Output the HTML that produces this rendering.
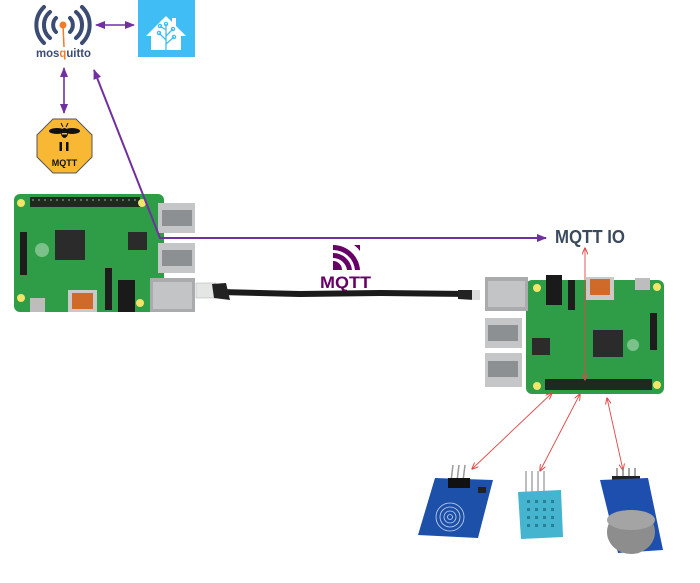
<!DOCTYPE html>
<html><head><meta charset="utf-8"><style>
html,body{margin:0;padding:0;background:#fff;}
svg{display:block;}
</style></head><body>
<svg width="700" height="583" viewBox="0 0 700 583" xmlns="http://www.w3.org/2000/svg">
<defs>
<marker id="pa" markerWidth="10" markerHeight="8" refX="9" refY="4" orient="auto-start-reverse" markerUnits="userSpaceOnUse">
<path d="M0,0 L10,4 L0,8 z" fill="#7030a0"/>
</marker>
<marker id="ra" markerWidth="7" markerHeight="6" refX="6.5" refY="3" orient="auto-start-reverse" markerUnits="userSpaceOnUse">
<path d="M0,0 L7,3 L0,6" fill="none" stroke="#e04848" stroke-width="1"/>
</marker>
</defs>

<!-- Mosquitto logo -->
<g fill="none" stroke="#3c4b72" stroke-width="4" stroke-linecap="round">
<path d="M56,18 A10,10 0 0 0 56,32"/>
<path d="M70,18 A10,10 0 0 1 70,32"/>
<path d="M50,12 A17,17 0 0 0 50,38"/>
<path d="M76,12 A17,17 0 0 1 76,38"/>
<path d="M44,7 A25,25 0 0 0 44,43"/>
<path d="M82,7 A25,25 0 0 1 82,43"/>
</g>
<line x1="63" y1="25" x2="64" y2="47" stroke="#f07c2a" stroke-width="1.5"/>
<circle cx="63" cy="25" r="3.5" fill="#f07c2a"/>
<text x="36" y="57" font-family="Liberation Sans, sans-serif" font-size="12" font-weight="bold" fill="#3c4b72" textLength="55" lengthAdjust="spacingAndGlyphs">mos<tspan fill="#f07c2a">q</tspan>uitto</text>

<!-- Home Assistant -->
<rect x="138" y="0" width="57" height="57" fill="#41bdf5"/>
<path d="M146,36 L166,16 L172,22 L172,18 L176,18 L176,26 L186,36 L181,36 L181,50 L151,50 L151,36 Z" fill="#fff"/>
<g stroke="#41bdf5" stroke-width="1.3" fill="none">
<path d="M166,50 L166,24 M166,40 L159,33 M166,36 L173,29 M166,44 L174,37 M166,30 L160,26"/>
<circle cx="166" cy="24" r="1.6"/><circle cx="159" cy="33" r="1.6"/><circle cx="173" cy="29" r="1.6"/><circle cx="174" cy="37" r="1.6"/><circle cx="160" cy="26" r="1.6"/>
</g>

<!-- purple arrows top -->
<line x1="96" y1="25" x2="134" y2="25" stroke="#7030a0" stroke-width="1.6" marker-start="url(#pa)" marker-end="url(#pa)"/>
<line x1="64" y1="68" x2="64" y2="113" stroke="#7030a0" stroke-width="1.6" marker-start="url(#pa)" marker-end="url(#pa)"/>

<!-- MQTT bee octagon -->
<polygon points="53,119 76,119 92,135 92,157 76,173 53,173 37,157 37,135" fill="#f8b834" stroke="#555" stroke-width="1"/>
<ellipse cx="57" cy="131" rx="8" ry="3" fill="#111"/>
<ellipse cx="72" cy="131" rx="8" ry="3" fill="#111"/>
<ellipse cx="64.5" cy="133" rx="3.5" ry="5" fill="#111"/>
<rect x="62" y="133" width="5" height="1.5" fill="#f8b834"/>
<line x1="61" y1="123" x2="63" y2="127" stroke="#111" stroke-width="1"/>
<line x1="68" y1="123" x2="66" y2="127" stroke="#111" stroke-width="1"/>
<rect x="59.5" y="142" width="2.5" height="9" fill="#111"/>
<rect x="66" y="142" width="2.5" height="9" fill="#111"/>
<text x="64.5" y="166" text-anchor="middle" font-family="Liberation Sans, sans-serif" font-size="9" font-weight="bold" fill="#111">MQTT</text>

<!-- Left Raspberry Pi -->
<rect x="14" y="194" width="150" height="118" rx="6" fill="#2f9d48"/>
<rect x="30" y="197" width="110" height="10" fill="#1c2a20"/>
<g fill="#666">
<rect x="32" y="199" width="2" height="2"/><rect x="38" y="199" width="2" height="2"/><rect x="44" y="199" width="2" height="2"/><rect x="50" y="199" width="2" height="2"/><rect x="56" y="199" width="2" height="2"/><rect x="62" y="199" width="2" height="2"/><rect x="68" y="199" width="2" height="2"/><rect x="74" y="199" width="2" height="2"/><rect x="80" y="199" width="2" height="2"/><rect x="86" y="199" width="2" height="2"/><rect x="92" y="199" width="2" height="2"/><rect x="98" y="199" width="2" height="2"/><rect x="104" y="199" width="2" height="2"/><rect x="110" y="199" width="2" height="2"/><rect x="116" y="199" width="2" height="2"/><rect x="122" y="199" width="2" height="2"/><rect x="128" y="199" width="2" height="2"/><rect x="134" y="199" width="2" height="2"/>
</g>
<circle cx="21" cy="203" r="4" fill="#f3e46a"/>
<circle cx="142" cy="203" r="4" fill="#f3e46a"/>
<circle cx="21" cy="298" r="4" fill="#f3e46a"/>
<circle cx="140" cy="303" r="4" fill="#f3e46a"/>
<rect x="55" y="230" width="30" height="30" fill="#2b2b2b"/>
<rect x="128" y="232" width="19" height="18" fill="#2b2b2b"/>
<rect x="20" y="232" width="7" height="43" fill="#1d1d1d"/>
<circle cx="42" cy="250" r="7" fill="#7cc08a"/>
<rect x="105" y="268" width="7" height="42" fill="#1d1d1d"/>
<rect x="118" y="280" width="17" height="32" fill="#1a1a1a"/>
<rect x="68" y="290" width="29" height="22" fill="#c9c9c9"/>
<rect x="72" y="293" width="21" height="16" fill="#d06a2a"/>
<rect x="30" y="298" width="15" height="14" fill="#bdbdbd"/>
<rect x="158" y="203" width="37" height="30" fill="#c4c6c8"/>
<rect x="162" y="210" width="30" height="16" fill="#8d9092"/>
<rect x="158" y="243" width="37" height="30" fill="#c4c6c8"/>
<rect x="162" y="250" width="30" height="16" fill="#8d9092"/>
<rect x="150" y="278" width="45" height="34" fill="#a9abad"/>
<rect x="153" y="282" width="39" height="27" fill="#c2c4c6"/>

<!-- Ethernet cable -->
<path d="M220,292 L300,294 L380,293 L468,294" stroke="#1b1b1b" stroke-width="6" fill="none"/>
<rect x="196" y="283" width="20" height="15" fill="#e4e6e6" stroke="#aaa" stroke-width="0.5"/>
<path d="M212,284 L226,283 L230,300 L214,298 Z" fill="#222"/>
<path d="M458,290 L472,290 L474,300 L458,299 Z" fill="#222"/>
<rect x="472" y="290" width="8" height="10" fill="#dcdcdc"/>

<!-- purple long arrow -->
<polyline points="160,238 94,70" fill="none" stroke="#7030a0" stroke-width="2" marker-end="url(#pa)"/>
<line x1="159" y1="238" x2="546" y2="238" stroke="#7030a0" stroke-width="2" marker-end="url(#pa)"/>
<text x="555" y="243" font-family="Liberation Sans, sans-serif" font-size="18" font-weight="bold" fill="#3c4a5e" textLength="70" lengthAdjust="spacingAndGlyphs">MQTT IO</text>

<!-- MQTT logo center -->
<rect x="333" y="245" width="27" height="25" fill="#fff"/>
<path d="M333,245 A27,27 0 0 1 360,270 L355,270 A22,22 0 0 0 333,250 Z" fill="#660066"/>
<path d="M333,253 A19,19 0 0 1 352,270 L347,270 A14,14 0 0 0 333,258 Z" fill="#660066"/>
<path d="M333,261 A9,9 0 0 1 342,270 L333,270 Z" fill="#660066"/>
<path d="M354,245 L360,245 L360,251 A30,30 0 0 0 354,245 Z" fill="#660066"/>
<text x="320" y="288" font-family="Liberation Sans, sans-serif" font-size="17" font-weight="bold" fill="#660066" textLength="51" lengthAdjust="spacingAndGlyphs">MQTT</text>

<!-- Right Raspberry Pi -->
<rect x="526" y="280" width="138" height="114" rx="6" fill="#2f9d48"/>
<rect x="485" y="277" width="43" height="34" fill="#a9abad"/>
<rect x="488" y="281" width="37" height="26" fill="#c2c4c6"/>
<rect x="485" y="318" width="37" height="30" fill="#c4c6c8"/>
<rect x="488" y="325" width="30" height="16" fill="#8d9092"/>
<rect x="485" y="353" width="37" height="34" fill="#c4c6c8"/>
<rect x="488" y="361" width="30" height="16" fill="#8d9092"/>
<rect x="546" y="275" width="16" height="30" fill="#1a1a1a"/>
<rect x="568" y="280" width="7" height="30" fill="#1d1d1d"/>
<rect x="586" y="277" width="28" height="23" fill="#c9c9c9"/>
<rect x="590" y="279" width="20" height="16" fill="#d06a2a"/>
<rect x="635" y="278" width="15" height="12" fill="#bdbdbd"/>
<rect x="593" y="330" width="30" height="27" fill="#2b2b2b"/>
<rect x="532" y="338" width="18" height="17" fill="#2b2b2b"/>
<rect x="650" y="313" width="7" height="37" fill="#1d1d1d"/>
<circle cx="633" cy="345" r="6" fill="#7cc08a"/>
<rect x="545" y="379" width="107" height="11" fill="#1c2a20"/>
<circle cx="537" cy="288" r="4" fill="#f3e46a"/>
<circle cx="657" cy="287" r="4" fill="#f3e46a"/>
<circle cx="537" cy="386" r="4" fill="#f3e46a"/>
<circle cx="657" cy="385" r="4" fill="#f3e46a"/>

<!-- red arrows -->
<line x1="585" y1="248" x2="585" y2="380" stroke="#e04848" stroke-width="0.9" marker-start="url(#ra)" marker-end="url(#ra)"/>
<line x1="552" y1="393" x2="472" y2="469" stroke="#e04848" stroke-width="0.9" marker-start="url(#ra)" marker-end="url(#ra)"/>
<line x1="580" y1="394" x2="540" y2="471" stroke="#e04848" stroke-width="0.9" marker-start="url(#ra)" marker-end="url(#ra)"/>
<line x1="607" y1="398" x2="623" y2="470" stroke="#e04848" stroke-width="0.9" marker-start="url(#ra)" marker-end="url(#ra)"/>

<!-- touch sensor -->
<g stroke="#999" stroke-width="1.5">
<line x1="453" y1="465" x2="451" y2="481"/><line x1="459" y1="465" x2="457" y2="481"/><line x1="465" y1="465" x2="463" y2="481"/>
</g>
<polygon points="435,478 493,480 478,538 418,535" fill="#1d50a8"/>
<rect x="448" y="478" width="22" height="10" fill="#111"/>
<rect x="478" y="487" width="8" height="6" fill="#222"/>
<g fill="none" stroke="#c9d6f0" stroke-width="0.8">
<circle cx="450" cy="517" r="14"/><circle cx="450" cy="517" r="10"/><circle cx="450" cy="517" r="6"/><circle cx="450" cy="517" r="2.5"/>
</g>

<!-- DHT11 -->
<g stroke="#9a9a9a" stroke-width="1.3">
<line x1="526" y1="471" x2="526" y2="492"/><line x1="532" y1="471" x2="532" y2="492"/><line x1="538" y1="471" x2="538" y2="492"/><line x1="544" y1="471" x2="544" y2="492"/>
</g>
<polygon points="518,492 561,490 563,537 521,539" fill="#44b4cf"/>
<g fill="#2a7f96">
<rect x="527" y="500" width="3" height="3"/><rect x="535" y="500" width="3" height="3"/><rect x="543" y="500" width="3" height="3"/><rect x="551" y="500" width="3" height="3"/>
<rect x="527" y="508" width="3" height="3"/><rect x="535" y="508" width="3" height="3"/><rect x="543" y="508" width="3" height="3"/><rect x="551" y="508" width="3" height="3"/>
<rect x="527" y="516" width="3" height="3"/><rect x="535" y="516" width="3" height="3"/><rect x="543" y="516" width="3" height="3"/><rect x="551" y="516" width="3" height="3"/>
<rect x="527" y="524" width="3" height="3"/><rect x="535" y="524" width="3" height="3"/><rect x="543" y="524" width="3" height="3"/><rect x="551" y="524" width="3" height="3"/>
</g>

<!-- MQ gas sensor -->
<g stroke="#888" stroke-width="1.5">
<line x1="617" y1="468" x2="617" y2="482"/><line x1="623" y1="468" x2="623" y2="482"/><line x1="629" y1="468" x2="629" y2="482"/><line x1="635" y1="468" x2="635" y2="482"/>
</g>
<rect x="612" y="476" width="28" height="8" fill="#222"/>
<polygon points="600,480 648,478 663,550 618,553" fill="#1f4fae"/>
<ellipse cx="631" cy="532" rx="24" ry="22" fill="#8d8d8d"/>
<ellipse cx="631" cy="520" rx="24" ry="10" fill="#a4a4a4"/>
</svg>
</body></html>
